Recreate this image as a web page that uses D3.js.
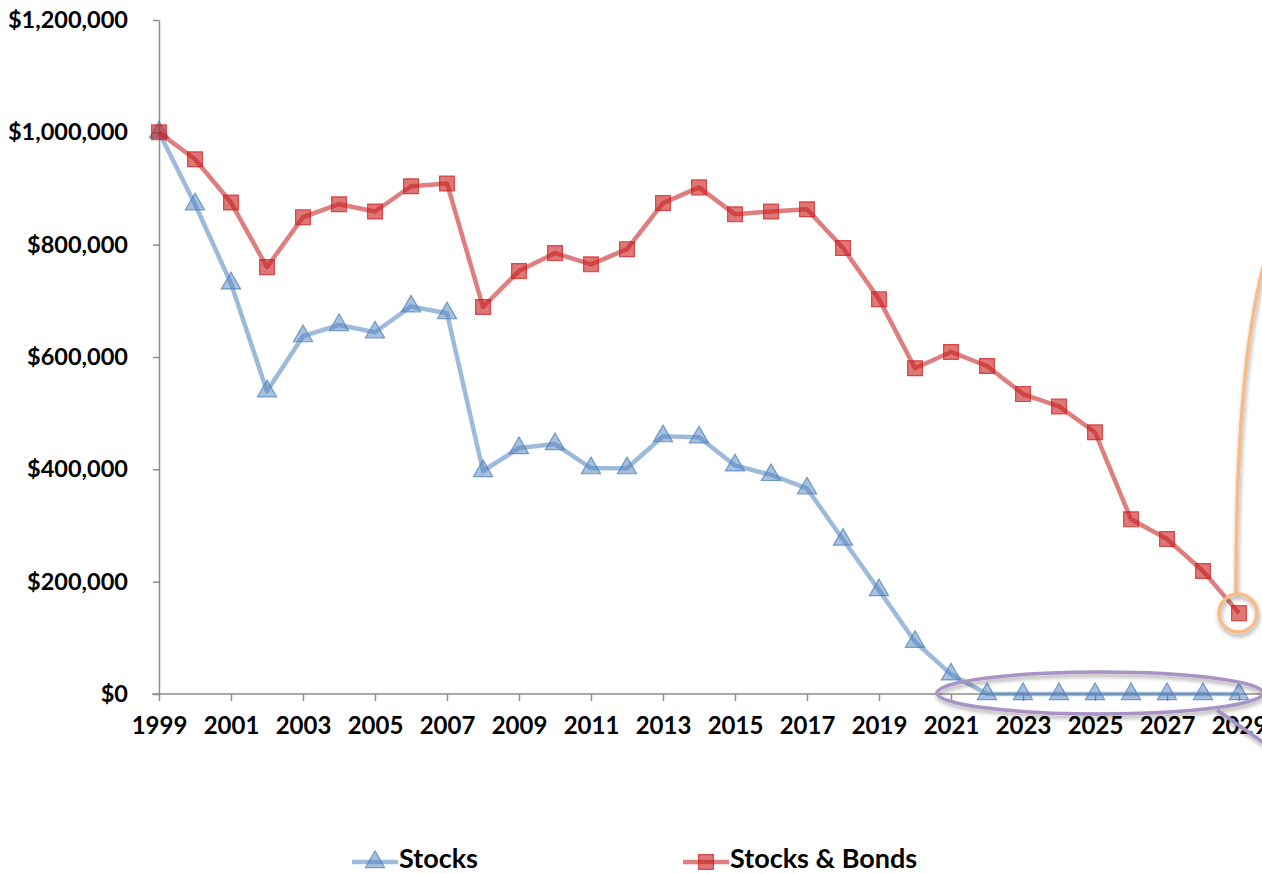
<!DOCTYPE html>
<html>
<head>
<meta charset="utf-8">
<script src="https://cdn.jsdelivr.net/npm/d3@7"></script>
<style>
  html, body { margin: 0; padding: 0; background: #fff; }
  svg { display: block; font-family: "Lato", "Open Sans", sans-serif; }
</style>
</head>
<body>
<svg id="chart" width="1262" height="874"></svg>
<script>
// Portfolio value by year, 1999–2029
const years = d3.range(1999, 2030);
const stocks = [
  1000000, 872000, 731000, 539000, 637000, 657000, 644000, 690000, 678000, 397000,
  438000, 445000, 402000, 402000, 459000, 457000, 407000, 390000, 366000, 275000,
  185000, 93000, 35000, 0, 0, 0, 0, 0, 0, 0, 0
];
const stocksBonds = [
  1000000, 952000, 875000, 760000, 849000, 872000, 859000, 904000, 909000, 689000,
  753000, 785000, 765000, 792000, 874000, 902000, 854000, 859000, 863000, 794000,
  703000, 580000, 609000, 584000, 534000, 512000, 466000, 311000, 276000, 219000, 144000
];
const yTicks = [0, 200000, 400000, 600000, 800000, 1000000, 1200000];
const xTickYears = d3.range(1999, 2030, 2);
const seriesNames = ["Stocks", "Stocks & Bonds"];

const svg = d3.select("#chart");
const W = 1262, H = 874;

const x = d3.scaleLinear().domain([1999, 2029]).range([159, 1239]);
const y = d3.scaleLinear().domain([0, 1200000]).range([694, 20]);

const axisColor = "#8c8c8c";
const fmt = v => "$" + d3.format(",")(v);

// Y axis
const yAxis = svg.append("g")
  .attr("transform", `translate(${x(1999)},0)`)
  .call(d3.axisLeft(y).tickValues(yTicks).tickFormat(fmt).tickSize(6).tickSizeOuter(0).tickPadding(25));
yAxis.select(".domain").attr("stroke", axisColor).attr("stroke-width", 1.5);
yAxis.selectAll(".tick line").attr("stroke", axisColor).attr("stroke-width", 1.5);
yAxis.selectAll(".tick text")
  .attr("font-size", 23.5).attr("font-weight", 700).attr("fill", "#000")
  .attr("font-family", "Lato, 'Open Sans', sans-serif");

// X axis
const xAxis = svg.append("g")
  .attr("transform", `translate(0,${y(0)})`)
  .call(d3.axisBottom(x).tickValues(xTickYears).tickFormat(d3.format("d")).tickSize(7).tickSizeOuter(0).tickPadding(16));
xAxis.select(".domain").remove();
xAxis.append("line")
  .attr("x1", 152).attr("x2", W).attr("y1", 0).attr("y2", 0)
  .attr("stroke", axisColor).attr("stroke-width", 1.5);
xAxis.selectAll(".tick line").attr("stroke", axisColor).attr("stroke-width", 1.5);
xAxis.selectAll(".tick text")
  .attr("font-size", 24).attr("font-weight", 700).attr("fill", "#000")
  .attr("font-family", "Lato, 'Open Sans', sans-serif");

const blue = { line: "rgba(79,129,189,0.55)", fill: "rgba(79,129,189,0.5)", stroke: "rgba(79,129,189,0.75)" };
const red  = { line: "rgba(200,40,40,0.6)",  fill: "rgba(200,30,30,0.6)",  stroke: "rgba(210,30,30,0.75)" };

const line = d3.line().x((d, i) => x(years[i])).y(d => y(d));

const triPath = d3.symbol().type(d3.symbolTriangle).size(160)();
const sqPath = d3.symbol().type(d3.symbolSquare).size(220)();

function drawSeries(vals, col, markerPath) {
  svg.append("path")
    .datum(vals)
    .attr("fill", "none")
    .attr("stroke", col.line)
    .attr("stroke-width", 4.5)
    .attr("stroke-linejoin", "round")
    .attr("d", line);
  svg.append("g").selectAll("path")
    .data(vals)
    .join("path")
    .attr("transform", (d, i) => `translate(${x(years[i])},${y(d)})`)
    .attr("d", markerPath)
    .attr("fill", col.fill)
    .attr("stroke", col.stroke)
    .attr("stroke-width", 1.2);
}

drawSeries(stocks, blue, triPath);
drawSeries(stocksBonds, red, sqPath);

// Drop shadow filter for callouts
const defs = svg.append("defs");
const sh = defs.append("filter").attr("id", "shadow").attr("x", "-20%").attr("y", "-50%").attr("width", "140%").attr("height", "200%");
sh.append("feGaussianBlur").attr("in", "SourceAlpha").attr("stdDeviation", 2).attr("result", "b");
sh.append("feOffset").attr("in", "b").attr("dx", 1).attr("dy", 3).attr("result", "o");
sh.append("feComponentTransfer").attr("in", "o").attr("result", "oa")
  .append("feFuncA").attr("type", "linear").attr("slope", 0.35);
const m = sh.append("feMerge");
m.append("feMergeNode").attr("in", "oa");
m.append("feMergeNode").attr("in", "SourceGraphic");

// Callout on the final Stocks & Bonds value
const lastYear = years[years.length - 1];
const lastVal = stocksBonds[stocksBonds.length - 1];
const cx = x(lastYear) - 1, cy = y(lastVal);
const orange = "#f9bb86";
const callout = svg.append("g").attr("filter", "url(#shadow)");
callout.append("circle")
  .attr("cx", cx).attr("cy", cy).attr("r", 19)
  .attr("fill", "none").attr("stroke", orange).attr("stroke-width", 3.5);
callout.append("path")
  .attr("d", `M${cx - 2},${cy - 19} C${cx - 2},${cy - 180} ${cx + 8},${cy - 280} ${W + 2},${cy - 350}`)
  .attr("fill", "none").attr("stroke", orange).attr("stroke-width", 3.5);

// Highlight around the years where Stocks is exhausted
const purple = "#a793c4";
const ring = svg.append("g").attr("filter", "url(#shadow)");
ring.append("ellipse")
  .attr("cx", x(2025) + 5).attr("cy", y(0) - 1).attr("rx", 163).attr("ry", 21)
  .attr("fill", "none").attr("stroke", purple).attr("stroke-width", 3.5);
ring.append("line")
  .attr("x1", x(2028) + 14).attr("y1", y(0) + 16).attr("x2", W + 2).attr("y2", y(0) + 49)
  .attr("stroke", purple).attr("stroke-width", 3.5);

// Legend
const legend = svg.append("g");
const legendItems = [
  { name: seriesNames[0], col: blue, path: triPath, x0: 352 },
  { name: seriesNames[1], col: red, path: sqPath, x0: 683 }
];
legendItems.forEach(it => {
  const g = legend.append("g").attr("transform", `translate(${it.x0},862)`);
  g.append("line").attr("x1", 0).attr("x2", 46).attr("y1", 0).attr("y2", 0)
    .attr("stroke", it.col.line).attr("stroke-width", 4.5);
  g.append("path").attr("transform", "translate(23,0)").attr("d", it.path)
    .attr("fill", it.col.fill).attr("stroke", it.col.stroke).attr("stroke-width", 1.2);
  g.append("text").attr("x", 47).attr("y", 6)
    .attr("font-size", 27).attr("font-weight", 700).attr("fill", "#000")
    .text(it.name);
});
</script>
</body>
</html>
